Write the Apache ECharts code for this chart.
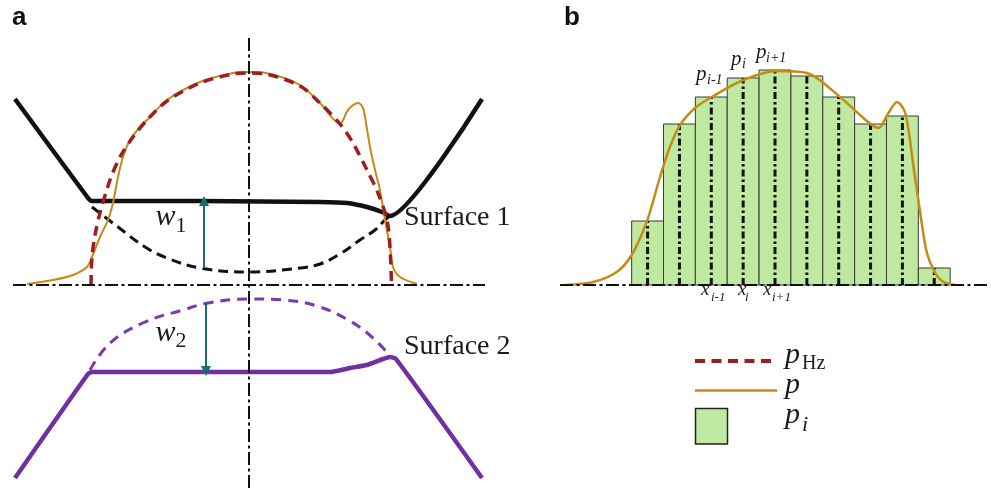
<!DOCTYPE html>
<html>
<head>
<meta charset="utf-8">
<script src="https://cdn.jsdelivr.net/npm/echarts@6/dist/echarts.min.js"></script>
<style>
html, body { margin: 0; padding: 0; background: #fff; }
#chart { width: 991px; height: 491px; }
</style>
</head>
<body>
<div id="chart"></div>
<script>
// ---- Panel a: x = distance from the symmetry axis, y = height above the contact plane ----
const surface1 = [[-234,186],[-161,87],[-157,84],[-49,84],[71,83],[98,82],[118,78],[133,73],[141,69],[233,186]];
const surface1Deformed = [[-157,78],[-131,58],[-104,38],[-82,27],[-49,17],[0,13],[51,17],[71,21],[91,31],[111,45],[126,55],[136,65],[141,69]];
const hertzPressure = [[-158,0],[-157,28],[-154,50],[-149,72],[-139,105],[-129,128],[-116,148],[-102,165],[-82,184],[-49,202],[-16,211],[0,212],[17,211],[51,199],[71,182],[91,161],[104,142],[118,115],[129,92],[138,65],[141,38],[142.5,0]];
const pressureA = [[-222,1],[-196,5],[-176,10],[-162,18],[-157,28],[-149,48],[-141,65],[-136,82],[-131,108],[-126,128],[-119,145],[-109,158],[-100,167],[-82,185],[-49,203],[-16,212],[0,213],[17,212],[51,200],[71,182],[91,161],[99,175],[109,182],[114,177],[116,168],[121,138],[126,115],[131,95],[136,65],[141,38],[144,18],[151,8],[168,1]];
const surface2 = [[-234,-193],[-161,-89],[-157,-87],[0,-87],[81,-87],[101,-83],[118,-80],[134,-74],[141,-72],[147,-74],[233,-193]];
const surface2Deformed = [[-159,-85],[-139,-58],[-104,-37],[-66,-25],[-41,-18],[0,-14],[34,-15],[68,-21],[101,-36],[124,-53],[143,-73]];
const w1Arrow = [[-45,17],[-45,84]];
const w2Arrow = [[-43,-18],[-43,-86]];
const symmetryAxis = [[0,247],[0,-206]];
const contactPlaneA = [[-236,0],[236,0]];

// ---- Panel b: x = bin index (bin i spans [i, i+1]), y = pressure ----
const binHeights = [64,161,188,207,215,209,188,161,169,17];
const pressureB = [[-2.09,0],[-1.21,3],[-0.47,13],[0,30],[0.47,63],[0.89,108],[1.2,138],[1.52,160],[1.99,177],[2.51,188],[3.51,205],[4.56,214],[5.5,212],[6.54,188],[7.17,170],[7.54,160],[7.75,157],[8.06,172],[8.33,183],[8.59,172],[8.85,118],[9.06,72],[9.27,32],[9.53,12],[9.79,3],[10.16,0]];
const contactPlaneB = [[-2.25,0],[11.25,0]];

const SERIF = '"Liberation Serif", "Times New Roman", serif';
const SANS = '"Liberation Sans", Arial, sans-serif';
const DASH_DOT = [13, 3.5, 3, 3.5];

function curve(data, grid, color, width, type, z, smooth) {
  return {
    type: 'line', xAxisIndex: grid, yAxisIndex: grid, data: data,
    showSymbol: false, symbol: 'none', silent: true, animation: false,
    smooth: smooth === undefined ? 0.35 : smooth,
    lineStyle: { color: color, width: width, type: type || 'solid', cap: 'butt', join: 'round' },
    z: z
  };
}

function txt(x, y, text, font, fill) {
  return {
    type: 'text', x: x, y: y, silent: true,
    style: { text: text, font: font, fill: fill || '#1a1a1a',
      align: 'left', verticalAlign: 'middle', textAlign: 'left', textVerticalAlign: 'middle' }
  };
}

const chart = echarts.init(document.getElementById('chart'), null, { renderer: 'canvas' });

const option = {
  animation: false,
  backgroundColor: '#ffffff',
  grid: [
    { left: 0, top: 0, width: 500, height: 491 },
    { left: 560, top: 0, width: 430, height: 491 }
  ],
  xAxis: [
    { type: 'value', gridIndex: 0, min: -249, max: 251, show: false },
    { type: 'value', gridIndex: 1, min: -2.25, max: 11.25, show: false }
  ],
  yAxis: [
    { type: 'value', gridIndex: 0, min: -206, max: 285, show: false },
    { type: 'value', gridIndex: 1, min: -206, max: 285, show: false }
  ],
  series: [
    // panel a
    curve(surface1, 0, '#111111', 4.5, 'solid', 2, 0.2),
    curve(surface1Deformed, 0, '#111111', 3, [10, 6], 2, 0.4),
    curve(surface2, 0, '#7030a0', 4.5, 'solid', 2, 0.2),
    curve(surface2Deformed, 0, '#7a3aa8', 3, [10, 7], 2, 0.4),
    curve(pressureA, 0, '#c68b12', 2, 'solid', 3, 0.3),
    curve(hertzPressure, 0, '#9e1d22', 3.5, [10, 6.5], 4, 0.3),
    {
      type: 'lines', coordinateSystem: 'cartesian2d', xAxisIndex: 0, yAxisIndex: 0,
      silent: true, animation: false, z: 5,
      symbol: ['none', 'triangle'], symbolSize: [0, 10],
      lineStyle: { color: '#17706e', width: 2, opacity: 1, curveness: 0 },
      data: [{ coords: w1Arrow }, { coords: w2Arrow }]
    },
    curve(symmetryAxis, 0, '#111111', 2, DASH_DOT, 6, false),
    curve(contactPlaneA, 0, '#111111', 2, DASH_DOT, 6, false),
    // panel b
    {
      type: 'custom', xAxisIndex: 1, yAxisIndex: 1, silent: true, animation: false, z: 2,
      data: binHeights.map(function (h, i) { return [i, h]; }),
      renderItem: function (params, api) {
        const i = api.value(0), h = api.value(1);
        const bl = api.coord([i, 0]);
        const tr = api.coord([i + 1, h]);
        const cb = api.coord([i + 0.5, 0]);
        const ct = api.coord([i + 0.5, h]);
        return {
          type: 'group',
          children: [
            { type: 'rect', shape: { x: bl[0], y: tr[1], width: tr[0] - bl[0], height: bl[1] - tr[1] },
              style: { fill: '#bfe9a0', stroke: '#3a3a3a', lineWidth: 1 } },
            { type: 'line', shape: { x1: cb[0], y1: cb[1], x2: ct[0], y2: ct[1] },
              style: { stroke: '#111111', lineWidth: 3, lineDash: [7, 3, 2.5, 3] } }
          ]
        };
      }
    },
    curve(pressureB, 1, '#c68b12', 2.5, 'solid', 3, 0.3),
    curve(contactPlaneB, 1, '#111111', 2, DASH_DOT, 6, false)
  ],
  graphic: [
    txt(12, 17.7, 'a', 'bold 26px ' + SANS, '#111'),
    txt(564, 17.7, 'b', 'bold 26px ' + SANS, '#111'),
    txt(404, 217.4, 'Surface 1', '28px ' + SERIF),
    txt(404, 346.4, 'Surface 2', '28px ' + SERIF),
    txt(155.5, 216.8, 'w', 'italic 30px ' + SERIF),
    txt(175.5, 226, '1', '22px ' + SERIF),
    txt(155.5, 333.4, 'w', 'italic 30px ' + SERIF),
    txt(175.5, 341, '2', '22px ' + SERIF),
    // bin labels
    txt(696, 74.6, 'p', 'italic 21px ' + SERIF),
    txt(707, 80.4, 'i-1', 'italic 14px ' + SERIF),
    txt(731, 59, 'p', 'italic 21px ' + SERIF),
    txt(742, 64.4, 'i', 'italic 14px ' + SERIF),
    txt(756, 52, 'p', 'italic 21px ' + SERIF),
    txt(766, 58, 'i+1', 'italic 14px ' + SERIF),
    txt(701, 290.4, 'x', 'italic 19px ' + SERIF),
    txt(711, 297.7, 'i-1', 'italic 13px ' + SERIF),
    txt(738, 290.4, 'x', 'italic 19px ' + SERIF),
    txt(745, 297.7, 'i', 'italic 13px ' + SERIF),
    txt(763, 290.4, 'x', 'italic 19px ' + SERIF),
    txt(772, 297.7, 'i+1', 'italic 13px ' + SERIF),
    // legend
    { type: 'line', silent: true, shape: { x1: 695, y1: 361, x2: 777, y2: 361 },
      style: { stroke: '#9e1d22', lineWidth: 4, lineDash: [10, 6.5] } },
    { type: 'line', silent: true, shape: { x1: 695, y1: 390.5, x2: 777, y2: 390.5 },
      style: { stroke: '#c68b12', lineWidth: 2.5 } },
    { type: 'rect', silent: true, shape: { x: 695.5, y: 408.5, width: 32, height: 35.5 },
      style: { fill: '#bfe9a0', stroke: '#222222', lineWidth: 1.5 } },
    txt(785, 355.3, 'p', 'italic 30px ' + SERIF),
    txt(802, 363.5, 'Hz', '20px ' + SERIF),
    txt(785, 385.3, 'p', 'italic 30px ' + SERIF),
    txt(785, 415.3, 'p', 'italic 30px ' + SERIF),
    txt(802, 425.7, 'i', 'italic 22px ' + SERIF)
  ]
};

chart.setOption(option);
</script>
</body>
</html>
